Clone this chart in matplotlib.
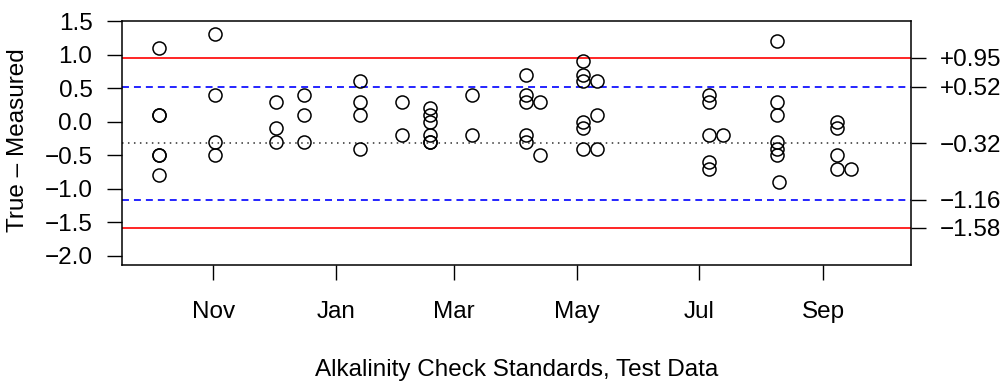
import matplotlib
matplotlib.use("Agg")
import matplotlib.pyplot as plt
import matplotlib.dates as mdates
import numpy as np
from datetime import datetime

plt.rcParams['font.family'] = ['Liberation Sans', 'DejaVu Sans']
plt.rcParams['lines.scale_dashes'] = False

# check standard results: sample date and (true - measured)
sample_dates = [
    "2012-10-05", "2012-10-05", "2012-10-05", "2012-10-05", "2012-10-05", "2012-10-05",
    "2012-11-02", "2012-11-02", "2012-11-02", "2012-11-02",
    "2012-12-02", "2012-12-02", "2012-12-02",
    "2012-12-16", "2012-12-16", "2012-12-16",
    "2013-01-13", "2013-01-13", "2013-01-13", "2013-01-13",
    "2013-02-03", "2013-02-03",
    "2013-02-17", "2013-02-17", "2013-02-17", "2013-02-17", "2013-02-17", "2013-02-17",
    "2013-03-10", "2013-03-10",
    "2013-04-06", "2013-04-06", "2013-04-06", "2013-04-06", "2013-04-06",
    "2013-04-13", "2013-04-13",
    "2013-05-04", "2013-05-04", "2013-05-04", "2013-05-04", "2013-05-04", "2013-05-04",
    "2013-05-11", "2013-05-11", "2013-05-11",
    "2013-07-06", "2013-07-06", "2013-07-06", "2013-07-06", "2013-07-06",
    "2013-07-13",
    "2013-08-09", "2013-08-09", "2013-08-09", "2013-08-09", "2013-08-09", "2013-08-09",
    "2013-08-10",
    "2013-09-08", "2013-09-08", "2013-09-08", "2013-09-08",
    "2013-09-15",
]
diffs = [
    1.1, 0.1, 0.1, -0.5, -0.5, -0.8,
    1.3, 0.4, -0.3, -0.5,
    0.3, -0.1, -0.3,
    0.4, 0.1, -0.3,
    0.6, 0.3, 0.1, -0.4,
    0.3, -0.2,
    0.2, 0.1, 0.0, -0.2, -0.3, -0.3,
    0.4, -0.2,
    0.7, 0.4, 0.3, -0.2, -0.3,
    0.3, -0.5,
    0.9, 0.7, 0.6, 0.0, -0.1, -0.4,
    0.6, 0.1, -0.4,
    0.4, 0.3, -0.2, -0.6, -0.7,
    -0.2,
    1.2, 0.3, 0.1, -0.3, -0.4, -0.5,
    -0.9,
    0.0, -0.1, -0.5, -0.7,
    -0.7,
]

# control limits, warning limits and mean
mean_line = -0.32
warn_lines = [0.52, -1.16]
ctrl_lines = [0.95, -1.58]
limit_labels = ["+0.95", "+0.52", "\u22120.32", "\u22121.16", "\u22121.58"]
limit_values = [0.95, 0.52, -0.32, -1.16, -1.58]

dates = [datetime.strptime(d, "%Y-%m-%d") for d in sample_dates]

fig = plt.figure(figsize=(10.05, 3.81), dpi=100)
ax = fig.add_axes([122 / 1005, 1 - 265 / 381, 789 / 1005, 244.3 / 381])

for v in ctrl_lines:
    ax.axhline(v, color="#ff0000", lw=1.2)
for v in warn_lines:
    ax.axhline(v, color="#0000ff", lw=1.2, dashes=(5, 3.6))
ax.axhline(mean_line, color="#404040", lw=1.2, dashes=(1.1, 3.2))

ax.plot(dates, diffs, "o", ms=9.4, mfc="none", mec="black", mew=1.1)

x0 = mdates.date2num(datetime(2012, 9, 16, 12))
x1 = mdates.date2num(datetime(2013, 10, 14, 16))
ax.set_xlim(x0, x1)
ax.set_ylim(-2.135, 1.505)

ax.set_yticks(np.arange(-2.0, 1.51, 0.5))
ax.yaxis.set_major_formatter(
    matplotlib.ticker.FuncFormatter(lambda v, p: f"{v:.1f}".replace("-", "\u2212")))
ax.xaxis.set_major_locator(mdates.MonthLocator(bymonth=[1, 3, 5, 7, 9, 11]))
ax.xaxis.set_major_formatter(mdates.DateFormatter("%b"))

fs = 17.5
ax.tick_params(axis="both", length=10.8, width=1.0, labelsize=fs)
ax.tick_params(axis="x", pad=15)
ax.tick_params(axis="y", pad=10.5)
for s in ax.spines.values():
    s.set_linewidth(1.1)

ax.set_ylabel("True \u2013 Measured", fontsize=fs, va="center")
ax.yaxis.set_label_coords(-0.132, 0.512)
ax.set_xlabel("Alkalinity Check Standards, Test Data", fontsize=fs, va="center")
ax.xaxis.set_label_coords(0.5, -0.43)

# limit values on the right side
ax2 = ax.twinx()
ax2.set_ylim(ax.get_ylim())
ax2.set_yticks(limit_values)
ax2.set_yticklabels(limit_labels)
ax2.tick_params(axis="y", length=10.8, width=1.0, labelsize=fs, pad=10)
for s in ax2.spines.values():
    s.set_visible(False)

fig.savefig("out.png", dpi=100)
